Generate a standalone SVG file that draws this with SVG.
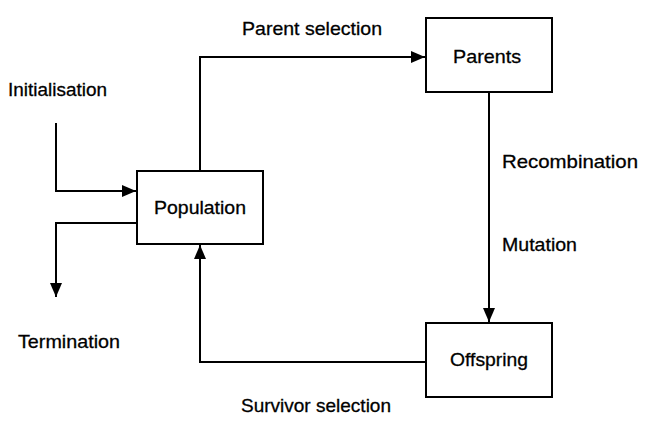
<svg xmlns="http://www.w3.org/2000/svg" width="652" height="431" viewBox="0 0 652 431">
<defs>
<style>
.box{fill:#fff;stroke:#000;stroke-width:2}
.ln{fill:none;stroke:#000;stroke-width:2}
text{font-family:"Liberation Sans",Arial,sans-serif;font-size:19px;fill:#000;stroke:#000;stroke-width:0.3}
</style>
<marker id="ah" markerWidth="14" markerHeight="12" refX="14" refY="6" orient="auto" markerUnits="userSpaceOnUse">
<path d="M0,0 L14,6 L0,12 Z" fill="#000"/>
</marker>
</defs>
<rect width="652" height="431" fill="#fff"/>
<g id="connectors">
<path class="ln" d="M56,123 V191 H136" marker-end="url(#ah)"/>
<path class="ln" d="M137,223 H56 V297" marker-end="url(#ah)"/>
<path class="ln" d="M200,171 V57 H425" marker-end="url(#ah)"/>
<path class="ln" d="M489,92 V322" marker-end="url(#ah)"/>
<path class="ln" d="M426,362 H200 V245" marker-end="url(#ah)"/>
</g>
<g id="population"><rect class="box" x="137" y="171" width="126" height="73"/><text x="154" y="214" textLength="92" lengthAdjust="spacingAndGlyphs">Population</text></g>
<g id="parents"><rect class="box" x="426" y="18" width="126" height="74"/><text x="453" y="63" textLength="68" lengthAdjust="spacingAndGlyphs">Parents</text></g>
<g id="offspring"><rect class="box" x="426" y="323" width="126" height="74"/><text x="450" y="366" textLength="78" lengthAdjust="spacingAndGlyphs">Offspring</text></g>
<g id="labels">
<text x="8" y="96" textLength="99" lengthAdjust="spacingAndGlyphs">Initialisation</text>
<text x="18" y="348" textLength="102" lengthAdjust="spacingAndGlyphs">Termination</text>
<text x="242" y="35" textLength="140" lengthAdjust="spacingAndGlyphs">Parent selection</text>
<text x="502" y="168" textLength="136" lengthAdjust="spacingAndGlyphs">Recombination</text>
<text x="502" y="251" textLength="75" lengthAdjust="spacingAndGlyphs">Mutation</text>
<text x="241" y="412" textLength="150" lengthAdjust="spacingAndGlyphs">Survivor selection</text>
</g>
</svg>
